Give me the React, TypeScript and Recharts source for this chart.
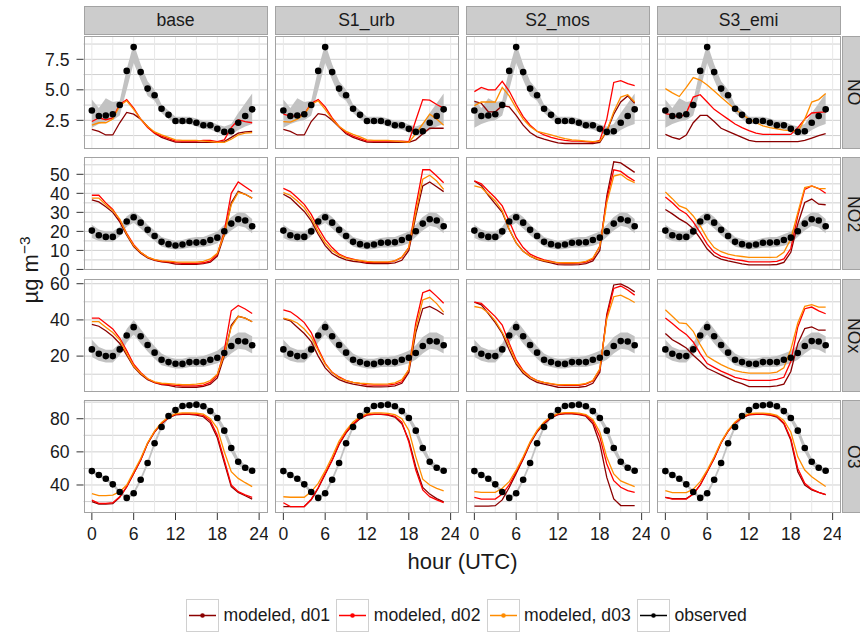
import React from "react"
import { ComposedChart, Line, Area, XAxis, YAxis, CartesianGrid } from "recharts"

// ─── Categories ───────────────────────────────────────────────────────────────

const HOURS = [0, 1, 2, 3, 4, 5, 6, 7, 8, 9, 10, 11, 12, 13, 14, 15, 16, 17, 18, 19, 20, 21, 22, 23]
const SCENARIOS = ["base", "S1_urb", "S2_mos", "S3_emi"]
const SPECIES = ["NO", "NO2", "NOx", "O3"]
const SERIES_NAMES = ["modeled, d01", "modeled, d02", "modeled, d03", "observed"]

// ─── Observations (same in every scenario) ────────────────────────────────────

const noObs = [3.3, 2.85, 2.9, 3.0, 3.75, 6.55, 8.5, 6.45, 5.1, 4.55, 3.45, 2.95, 2.45, 2.45, 2.45, 2.3, 2.1, 2.1, 1.8, 1.55, 1.6, 2.3, 2.85, 3.4]
const noLo = [1.9, 2.2, 2.4, 2.5, 2.9, 5.0, 7.2, 5.8, 4.5, 4.1, 3.1, 2.6, 2.2, 2.2, 2.2, 2.0, 1.8, 1.75, 1.5, 1.3, 1.3, 1.7, 2.0, 2.2]
const noHi = [4.2, 3.5, 4.3, 4.0, 4.1, 6.7, 8.8, 7.1, 5.7, 5.0, 3.8, 3.3, 2.8, 2.8, 2.8, 2.65, 2.45, 2.4, 2.15, 2.0, 2.2, 3.1, 3.9, 4.7]

const no2Obs = [20.4, 18.0, 17.1, 17.1, 20.0, 25.2, 27.4, 24.6, 20.8, 17.6, 14.5, 13.3, 12.6, 13.1, 14.0, 14.1, 14.3, 15.5, 16.7, 20.1, 24.1, 26.4, 25.7, 22.7]
const no2Lo = [16.5, 15, 14.5, 14.5, 17.5, 22.5, 24.5, 21.5, 18, 15, 12, 11, 10.5, 10.8, 11.5, 11.5, 11.8, 12.5, 13.8, 17, 20.5, 23, 22, 19]
const no2Hi = [23.5, 21, 20, 20, 22.5, 28, 30.5, 27.5, 23.5, 20.5, 17, 16, 15, 15.5, 16.5, 17, 17, 18.5, 20, 23.5, 27.5, 30, 29.5, 26.5]

const noxObs = [23.7, 21.3, 20.0, 20.0, 23.7, 31.4, 36.0, 31.0, 26.1, 21.9, 18.0, 16.7, 15.8, 15.7, 16.7, 16.7, 16.7, 18.0, 19.1, 21.7, 25.6, 28.3, 28.1, 26.0]
const noxLo = [19.5, 17.5, 16.5, 16.5, 20.5, 27.5, 32, 27, 22.5, 18.5, 15, 14, 13.2, 13.2, 14, 14, 14, 15, 16, 18, 21.5, 24, 23.5, 21.5]
const noxHi = [29, 25, 23.5, 23.5, 27, 35, 40, 35, 30, 25.5, 21.5, 19.5, 18.5, 18.5, 19.5, 19.5, 20, 21.5, 23, 26, 30.5, 33, 33, 31]

const o3Obs = [48.4, 46.0, 43.8, 40.4, 35.8, 32.2, 35.0, 43.2, 53.3, 65.2, 75.0, 81.6, 85.2, 87.7, 88.1, 88.5, 87.5, 84.6, 80.4, 72.8, 62.3, 54.0, 50.4, 48.6]
const o3Lo = [47.3, 44.9, 42.7, 39.3, 34.7, 31.1, 33.8, 41.8, 51.8, 63.6, 73.6, 80.4, 84.0, 86.5, 86.9, 87.3, 86.2, 83.1, 78.6, 70.5, 59.8, 52.0, 48.8, 47.3]
const o3Hi = [49.5, 47.1, 44.9, 41.5, 36.9, 33.3, 36.2, 44.6, 54.8, 66.8, 76.4, 82.8, 86.4, 88.9, 89.3, 89.7, 88.8, 86.1, 82.2, 75.1, 64.8, 56.0, 52.0, 49.9]

// ─── Modeled NO ───────────────────────────────────────────────────────────────

const noBaseD01 = [1.75, 1.6, 1.3, 1.3, 2.3, 3.15, 3.0, 2.6, 2.0, 1.45, 1.1, 0.9, 0.72, 0.7, 0.7, 0.7, 0.7, 0.7, 0.7, 0.75, 1.1, 1.45, 1.55, 1.6]
const noBaseD02 = [2.4, 2.7, 2.55, 2.7, 3.8, 4.2, 3.5, 2.6, 1.9, 1.45, 1.2, 1.0, 0.8, 0.8, 0.8, 0.8, 0.85, 0.85, 0.75, 0.9, 1.9, 2.55, 2.4, 2.3]
const noBaseD03 = [2.1, 2.3, 2.3, 2.6, 3.7, 4.1, 3.4, 2.6, 2.0, 1.55, 1.3, 1.1, 0.9, 0.85, 0.85, 0.85, 0.8, 0.75, 0.7, 0.7, 0.95, 1.3, 1.45, 1.5]

const noS1D01 = [1.75, 1.6, 1.3, 1.3, 2.4, 3.05, 2.95, 2.5, 1.95, 1.4, 1.1, 0.9, 0.72, 0.7, 0.7, 0.7, 0.7, 0.7, 0.7, 0.9, 1.4, 1.85, 1.85, 1.85]
const noS1D02 = [3.0, 2.85, 2.85, 3.0, 3.9, 4.2, 3.6, 2.7, 2.0, 1.5, 1.2, 1.0, 0.8, 0.8, 0.8, 0.8, 0.8, 0.8, 0.75, 2.5, 4.2, 4.15, 3.8, 3.5]
const noS1D03 = [2.4, 2.35, 2.6, 3.0, 3.8, 4.1, 3.4, 2.6, 2.0, 1.6, 1.35, 1.15, 0.9, 0.85, 0.85, 0.85, 0.8, 0.75, 0.7, 1.4, 2.2, 3.0, 2.6, 2.1]

const noS2D01 = [4.05, 3.9, 3.2, 3.2, 3.7, 3.6, 2.9, 2.1, 1.5, 1.15, 0.95, 0.8, 0.65, 0.6, 0.6, 0.6, 0.6, 0.6, 0.7, 1.6, 3.0, 4.0, 4.5, 3.9]
const noS2D02 = [4.85, 5.2, 5.0, 5.0, 5.7, 4.9, 3.8, 2.8, 2.1, 1.6, 1.3, 1.1, 0.95, 0.85, 0.8, 0.8, 0.75, 0.7, 0.85, 2.6, 5.6, 5.75, 5.5, 5.35]
const noS2D03 = [3.7, 4.0, 4.0, 4.0, 5.2, 4.5, 3.5, 2.6, 2.0, 1.6, 1.45, 1.3, 1.15, 1.0, 0.9, 0.85, 0.8, 0.75, 0.8, 1.6, 3.2, 4.4, 4.6, 4.0]

const noS3D01 = [1.35, 1.1, 0.95, 1.3, 2.3, 2.9, 2.9, 2.4, 1.85, 1.6, 1.35, 1.1, 0.85, 0.75, 0.75, 0.75, 0.75, 0.75, 0.75, 0.75, 0.85, 1.05, 1.25, 1.4]
const noS3D02 = [3.05, 2.95, 2.7, 3.1, 4.4, 4.6, 4.0, 3.4, 3.0, 2.6, 2.2, 1.9, 1.65, 1.45, 1.35, 1.35, 1.35, 1.35, 1.35, 1.9, 2.6, 3.1, 3.15, 3.2]
const noS3D03 = [5.1, 4.75, 4.45, 5.2, 6.0, 5.8, 5.4, 4.9, 4.4, 3.9, 3.4, 3.0, 2.6, 2.3, 2.05, 1.9, 1.8, 1.7, 1.65, 1.55, 2.6, 4.0, 4.2, 4.7]

// ─── Modeled NO2 ──────────────────────────────────────────────────────────────

const no2BaseD01 = [36.5, 35.5, 33, 30, 25, 18, 12, 8.5, 6, 4.8, 4, 3.6, 2.8, 2.7, 2.7, 2.7, 3, 3.8, 7, 18, 35, 41, 39.5, 37.5]
const no2BaseD02 = [39, 39, 35, 31.5, 26, 19, 13, 9, 6.5, 5, 4.3, 4, 3.5, 3.2, 3.2, 3.2, 3.5, 4.5, 8, 20, 40, 46, 43.5, 41]
const no2BaseD03 = [37.5, 37.5, 34, 31, 26.5, 18.5, 12.5, 9, 6.5, 5.2, 4.5, 4.4, 4, 3.8, 3.8, 3.8, 4.2, 5.5, 8.5, 18.5, 34, 40.5, 39.5, 37.5]

const no2S1D01 = [39.5, 37.5, 34, 30.5, 25.5, 18.5, 12.5, 8.5, 6.5, 5, 4.3, 3.8, 3.2, 3, 3, 3, 3.5, 4.8, 10, 28, 43.9, 46, 43.5, 40.9]
const no2S1D02 = [42.6, 40.9, 37.7, 34.2, 28.9, 21.9, 15.8, 11.5, 8, 6.3, 5.4, 4.5, 3.7, 3.7, 3.7, 3.7, 4.5, 6.3, 11.5, 33, 52.4, 52.4, 49.1, 45.6]
const no2S1D03 = [40.4, 39, 36, 32.5, 26.9, 19.9, 14, 10, 7.5, 6, 5.2, 4.7, 4.2, 4, 4, 4, 4.5, 6.5, 11.5, 30, 47.4, 49.5, 46.5, 42.1]

const no2S2D01 = [46.5, 44, 39, 34.5, 30, 21, 14, 9.5, 7, 5.3, 4.3, 3.5, 2.5, 2.4, 2.4, 2.5, 3, 4.5, 10, 38.5, 56.6, 56, 53.5, 51]
const no2S2D02 = [46.5, 45, 41.2, 37.7, 33.4, 25.5, 16.8, 11.5, 8, 6.3, 5, 4.2, 3.3, 3.2, 3.2, 3.3, 3.8, 5.5, 12.3, 36.9, 52.4, 51.5, 48.8, 46.5]
const no2S2D03 = [43.9, 43, 39.5, 36, 30.8, 21.1, 14, 9.5, 7, 5.5, 4.6, 4, 3.6, 3.5, 3.5, 3.6, 4.2, 6, 12, 35, 49.1, 50, 47.3, 45.6]

const no2S3D01 = [31.5, 29.2, 26.6, 24.5, 21.4, 16.3, 10.7, 7.2, 5.4, 4.5, 3.7, 2.9, 2.4, 2.4, 2.4, 2.4, 2.6, 3.7, 9, 23.9, 35.2, 37, 34.3, 34]
const no2S3D02 = [38.1, 35, 31.5, 29.3, 25, 19.4, 13.3, 9, 6.9, 5.9, 5.2, 4.7, 4, 4, 4, 4, 4.2, 5.5, 11, 28.2, 42.1, 43.9, 42.5, 40]
const no2S3D03 = [40.7, 37.2, 33.4, 32, 28.1, 22.9, 16.3, 11.5, 9.3, 8, 7.2, 6.8, 6.3, 6.3, 6.3, 6.3, 6.5, 9, 16, 29.9, 43, 43.9, 42.5, 42.5]

// ─── Modeled NOx ──────────────────────────────────────────────────────────────

const noxBaseD01 = [37.5, 36.5, 34, 31, 27, 20.5, 14, 10, 7, 5.3, 4.2, 3.8, 3, 2.8, 2.8, 2.8, 3.3, 4.5, 8, 20, 37, 42, 41, 39]
const noxBaseD02 = [41, 41, 38, 35, 30, 23, 15.5, 11, 7.5, 5.5, 4.5, 4.3, 3.8, 3.5, 3.5, 3.5, 4, 5.5, 9.5, 23, 45, 48, 46, 43.5]
const noxBaseD03 = [39, 39, 36, 33, 29, 21.5, 14.5, 10.5, 7.5, 5.8, 5, 4.8, 4.5, 4.3, 4.3, 4.5, 5, 6.5, 10, 21, 36, 42, 41, 39]

const noxS1D01 = [40.7, 39.5, 36, 32.5, 28, 20, 13.5, 9.5, 7, 5.5, 4.5, 3.8, 3.2, 3, 3, 3.1, 3.6, 5, 11, 33, 46.2, 47.5, 45.5, 43]
const noxS1D02 = [45.6, 44.5, 41.8, 38.5, 33, 24, 16, 11, 8.5, 6.5, 5.5, 4.8, 4.1, 4, 4, 4, 4.5, 5.8, 12.5, 38.3, 55, 56.5, 53, 49.2]
const noxS1D03 = [41, 40, 38.3, 35, 30.5, 23, 15.5, 11, 8, 6.5, 5.5, 5, 4.8, 4.5, 4.5, 4.7, 5.2, 7, 12.5, 35.5, 51, 52.5, 49, 44.3]

const noxS2D01 = [49.8, 48.3, 43.5, 38.5, 32.5, 23.5, 15.5, 10.5, 7.5, 5.5, 4.5, 3.7, 2.8, 2.7, 2.7, 2.8, 3.3, 5, 11, 43, 59.3, 59.9, 58, 55.5]
const noxS2D02 = [49.8, 49.2, 45.5, 41.8, 37.2, 27.1, 17.9, 12, 8.6, 6.5, 5.3, 4.6, 4, 3.8, 3.8, 3.9, 4.5, 6.3, 12.5, 41.8, 57.4, 58.7, 56.5, 53.7]
const noxS2D03 = [47.4, 46.7, 44, 39.5, 33.2, 25.7, 16.5, 11.5, 8.3, 6.5, 5.5, 4.8, 4.3, 4.2, 4.2, 4.3, 4.9, 6.5, 13, 40.5, 52.8, 53.7, 51.8, 49.6]

const noxS3D01 = [32.5, 29, 26.9, 24.5, 20.5, 17, 13.3, 11.5, 9.6, 7.8, 6, 4.8, 3.1, 3.1, 3.1, 3.1, 3.6, 4.5, 11.5, 26.9, 35.2, 36.1, 34.3, 34.3]
const noxS3D02 = [41, 38, 34.7, 32, 27.8, 21.4, 15.9, 13.8, 11.7, 10, 8.3, 7.4, 6.6, 6.6, 6.6, 6.6, 7.2, 8.3, 17, 36.1, 46.2, 47.1, 45, 43.4]
const noxS3D03 = [45.6, 42, 38.3, 38, 33.7, 26.3, 19.9, 17.5, 15.3, 13.5, 12, 11.2, 10.6, 10.6, 10.6, 10.6, 11.2, 13.5, 23.6, 38.3, 47.5, 48.4, 47.1, 47.1]

// ─── Modeled O3 ───────────────────────────────────────────────────────────────

const o3BaseD01 = [30, 28.5, 28.5, 28.8, 32.5, 38.8, 47, 55, 65, 72, 77, 80.5, 82.3, 82.6, 82.6, 82.2, 81.2, 77.5, 68.5, 53.5, 39, 35.5, 33.5, 31.5]
const o3BaseD02 = [30.9, 28.9, 28.9, 29.3, 32.9, 39, 47, 55.1, 65.2, 72.2, 77.2, 80.8, 82.6, 82.9, 82.9, 82.6, 82, 78.8, 70.1, 55.1, 40, 36, 34, 32.6]
const o3BaseD03 = [34.8, 33.6, 33.6, 33.9, 36, 40, 48, 56, 65.5, 72.5, 77.8, 81, 83, 83.5, 83.5, 83.3, 82.8, 80, 74.2, 60.1, 48, 44, 41.4, 39]

const o3S1D01 = [27, 27, 27, 27, 31, 38, 46.5, 55, 64.5, 71.5, 76.5, 80, 82.2, 82.6, 82.6, 82.2, 81, 77, 67, 51, 38.5, 34.5, 31.8, 29.8]
const o3S1D02 = [29.3, 27, 27, 27, 31.5, 38.5, 47, 55, 65, 72, 77, 80.5, 82.5, 82.8, 82.8, 82.5, 81.5, 78, 66, 49, 37, 33, 31, 29.3]
const o3S1D03 = [32.9, 32.6, 32.6, 32.6, 36, 41, 48.5, 57, 66.5, 73, 78, 81.2, 83, 83.5, 83.5, 83.2, 82.5, 80, 73, 57, 43.5, 40, 38, 36.5]

const o3S2D01 = [27.2, 27.2, 27.2, 27.5, 31, 38.5, 47, 55.5, 65, 72, 77, 80.5, 82.5, 83, 83, 82.5, 81.5, 77, 65, 44.6, 31.6, 27.6, 27.6, 27.6]
const o3S2D02 = [32.5, 31.5, 31.5, 31.5, 34.5, 40, 48, 56, 65.5, 72.5, 77.5, 81, 82.8, 83.2, 83.2, 82.8, 82, 78.5, 69, 52.7, 42.6, 38.6, 36.6, 35.6]
const o3S2D03 = [36, 35.6, 35.6, 35.6, 38, 42, 49, 57, 66, 73, 78, 81.3, 83.2, 83.7, 83.7, 83.4, 82.5, 79.5, 72, 56.7, 46.7, 42.5, 40.7, 39]

const o3S3D01 = [32.5, 31.8, 31.8, 31.8, 34.5, 40, 48, 56, 65.5, 72.5, 77.3, 80.6, 82.3, 82.6, 82.6, 82.2, 81, 77, 67, 48, 40, 37, 35.5, 34.2]
const o3S3D02 = [32.5, 31.5, 31.5, 31.5, 34.5, 40, 48, 56, 65.5, 72.5, 77.5, 80.8, 82.5, 82.8, 82.8, 82.4, 81.5, 77.5, 68, 50, 41, 37.5, 35.5, 34.2]
const o3S3D03 = [36.6, 35.4, 35.4, 35.4, 37.5, 42, 49, 57, 66, 73, 78, 81.3, 83, 83.4, 83.4, 83, 82, 79, 72, 57, 49, 45, 42, 39.1]

// ─── Lookup tables ────────────────────────────────────────────────────────────

const OBS: Record<string, number[][]> = {
  NO: [noObs, noLo, noHi],
  NO2: [no2Obs, no2Lo, no2Hi],
  NOx: [noxObs, noxLo, noxHi],
  O3: [o3Obs, o3Lo, o3Hi],
}

const MODELED: Record<string, number[][][]> = {
  NO: [
    [noBaseD01, noBaseD02, noBaseD03],
    [noS1D01, noS1D02, noS1D03],
    [noS2D01, noS2D02, noS2D03],
    [noS3D01, noS3D02, noS3D03],
  ],
  NO2: [
    [no2BaseD01, no2BaseD02, no2BaseD03],
    [no2S1D01, no2S1D02, no2S1D03],
    [no2S2D01, no2S2D02, no2S2D03],
    [no2S3D01, no2S3D02, no2S3D03],
  ],
  NOx: [
    [noxBaseD01, noxBaseD02, noxBaseD03],
    [noxS1D01, noxS1D02, noxS1D03],
    [noxS2D01, noxS2D02, noxS2D03],
    [noxS3D01, noxS3D02, noxS3D03],
  ],
  O3: [
    [o3BaseD01, o3BaseD02, o3BaseD03],
    [o3S1D01, o3S1D02, o3S1D03],
    [o3S2D01, o3S2D02, o3S2D03],
    [o3S3D01, o3S3D02, o3S3D03],
  ],
}

// ─── Axes ─────────────────────────────────────────────────────────────────────

const X_DOMAIN = [-1.2, 25.2]
const X_TICKS = [0, 6, 12, 18, 24]
const X_GRID = [0, 3, 6, 9, 12, 15, 18, 21, 24]

const Y_AXES: Record<string, { domain: number[]; ticks: number[]; grid: number[]; fmt: (v: number) => string }> = {
  NO: { domain: [0.15, 9.41], ticks: [2.5, 5, 7.5], grid: [1.25, 2.5, 3.75, 5, 6.25, 7.5, 8.75], fmt: (v) => v.toFixed(1) },
  NO2: { domain: [-0.3, 59.1], ticks: [0, 10, 20, 30, 40, 50], grid: [0, 5, 10, 15, 20, 25, 30, 35, 40, 45, 50, 55], fmt: (v) => String(v) },
  NOx: { domain: [0.17, 62.6], ticks: [20, 40, 60], grid: [10, 20, 30, 40, 50, 60], fmt: (v) => String(v) },
  O3: { domain: [23.1, 91.3], ticks: [40, 60, 80], grid: [30, 40, 50, 60, 70, 80, 90], fmt: (v) => String(v) },
}

// ─── Styling ──────────────────────────────────────────────────────────────────

const COLORS = ["#8B0000", "#FF0000", "#FF8C00", "#000000"]
const FONT = '"Liberation Sans", Arial, sans-serif'
const TEXT = "#1a1a1a"
const BORDER = "#a3a3a3"
const STRIP_FILL = "#cccccc"

const COL_X = [83.5, 274.5, 465.5, 656.5]
const ROW_Y = [36, 157.3, 278.6, 400]
const PW = 184
const PH = 113
const Y_AXIS_W = 83.5
const X_AXIS_H = 40
const PAD = 12 // room so edge tick labels are not clipped

// ─── Panel ────────────────────────────────────────────────────────────────────

function Panel({ col, row }: { col: number; row: number }) {
  const sp = SPECIES[row]
  const axis = Y_AXES[sp]
  const [obs, lo, hi] = OBS[sp]
  const [d01, d02, d03] = MODELED[sp][col]
  const data = HOURS.map((h, i) => ({
    hour: h,
    band: [lo[i], hi[i]],
    obs: obs[i],
    d01: d01[i],
    d02: d02[i],
    d03: d03[i],
  }))

  const showY = col === 0
  const showX = row === SPECIES.length - 1
  const width = PW + (showY ? Y_AXIS_W : 0)
  const height = PH + PAD + (showX ? X_AXIS_H : PAD)

  return (
    <div style={{ position: "absolute", left: COL_X[col] - (showY ? Y_AXIS_W : 0), top: ROW_Y[row] - PAD }}>
      <ComposedChart
        width={width}
        height={height}
        data={data}
        margin={{ top: PAD, right: 0, bottom: showX ? 0 : PAD, left: 0 }}
      >
        <XAxis
          type="number"
          dataKey="hour"
          domain={X_DOMAIN}
          allowDataOverflow
          ticks={X_TICKS}
          interval={0}
          hide={!showX}
          height={X_AXIS_H}
          axisLine={false}
          tickSize={7}
          tickMargin={8}
          tickLine={{ stroke: "#333" }}
          tick={{ fontSize: 17.6, fill: TEXT }}
        />
        <YAxis
          type="number"
          domain={axis.domain}
          allowDataOverflow
          ticks={axis.ticks}
          interval={0}
          hide={!showY}
          width={Y_AXIS_W}
          axisLine={false}
          tickSize={7}
          tickMargin={7}
          tickFormatter={axis.fmt}
          tickLine={{ stroke: "#333" }}
          tick={{ fontSize: 17.6, fill: TEXT }}
        />
        <CartesianGrid vertical={false} horizontalValues={axis.grid} stroke="#cfcfcf" />
        <CartesianGrid horizontal={false} verticalValues={X_GRID} stroke="#e8e8e8" />
        <Area type="linear" dataKey="band" stroke="none" fill="#c2c2c2" fillOpacity={1} isAnimationActive={false} />
        <Line type="linear" dataKey="d01" stroke={COLORS[0]} strokeWidth={1.3} dot={false} activeDot={false} isAnimationActive={false} />
        <Line type="linear" dataKey="d02" stroke={COLORS[1]} strokeWidth={1.3} dot={false} activeDot={false} isAnimationActive={false} />
        <Line type="linear" dataKey="d03" stroke={COLORS[2]} strokeWidth={1.3} dot={false} activeDot={false} isAnimationActive={false} />
        <Line
          type="linear"
          dataKey="obs"
          stroke="none"
          dot={{ r: 3.3, fill: COLORS[3], stroke: "none" }}
          activeDot={false}
          isAnimationActive={false}
        />
      </ComposedChart>
      <div
        style={{
          position: "absolute",
          left: showY ? Y_AXIS_W : 0,
          top: PAD,
          width: PW,
          height: PH,
          border: `1px solid ${BORDER}`,
          boxSizing: "border-box",
          pointerEvents: "none",
        }}
      />
    </div>
  )
}

// ─── Legend ───────────────────────────────────────────────────────────────────

function LegendKey({ color }: { color: string }) {
  return (
    <svg width={33} height={33} style={{ display: "block" }}>
      <rect x={0.5} y={0.5} width={32} height={32} fill="#fff" stroke="#d0d0d0" />
      <line x1={3} y1={16.5} x2={30} y2={16.5} stroke={color} strokeWidth={1.5} />
      <circle cx={16.5} cy={16.5} r={2.3} fill={color} />
    </svg>
  )
}

// ─── App ──────────────────────────────────────────────────────────────────────

export default function App() {
  return (
    <div
      style={{
        position: "absolute",
        left: 0,
        top: 0,
        width: 860,
        height: 632,
        overflow: "hidden",
        background: "#fff",
        fontFamily: FONT,
        color: TEXT,
      }}
    >
      {SPECIES.map((_, r) => SCENARIOS.map((_, c) => <Panel key={`${r}-${c}`} col={c} row={r} />))}

      {SCENARIOS.map((name, c) => (
        <div
          key={name}
          style={{
            position: "absolute",
            left: COL_X[c],
            top: 6,
            width: PW,
            height: 29,
            background: STRIP_FILL,
            border: `1px solid ${BORDER}`,
            boxSizing: "border-box",
            textAlign: "center",
            fontSize: 17.6,
            lineHeight: "27px",
          }}
        >
          {name}
        </div>
      ))}

      {SPECIES.map((name, r) => (
        <div
          key={name}
          style={{
            position: "absolute",
            left: 842,
            top: ROW_Y[r],
            width: 24,
            height: PH,
            background: STRIP_FILL,
            border: `1px solid ${BORDER}`,
            boxSizing: "border-box",
            display: "flex",
            alignItems: "center",
            justifyContent: "center",
          }}
        >
          <span style={{ writingMode: "vertical-rl", fontSize: 17.6, lineHeight: "22px" }}>{name}</span>
        </div>
      ))}

      <div
        style={{
          position: "absolute",
          left: 30,
          top: 270,
          transform: "translate(-50%, -50%) rotate(-90deg)",
          fontSize: 22,
          whiteSpace: "nowrap",
        }}
      >
        µg m<sup style={{ fontSize: 15.4 }}>−3</sup>
      </div>

      <div
        style={{
          position: "absolute",
          left: 462.5,
          top: 562,
          transform: "translate(-50%, -50%)",
          fontSize: 22,
          whiteSpace: "nowrap",
        }}
      >
        hour (UTC)
      </div>

      {SERIES_NAMES.map((name, i) => (
        <div
          key={name}
          style={{ position: "absolute", left: 186 + i * 150.3, top: 599, display: "flex", alignItems: "center" }}
        >
          <LegendKey color={COLORS[i]} />
          <span style={{ fontSize: 17.6, marginLeft: 4.5, whiteSpace: "nowrap" }}>{name}</span>
        </div>
      ))}
    </div>
  )
}
